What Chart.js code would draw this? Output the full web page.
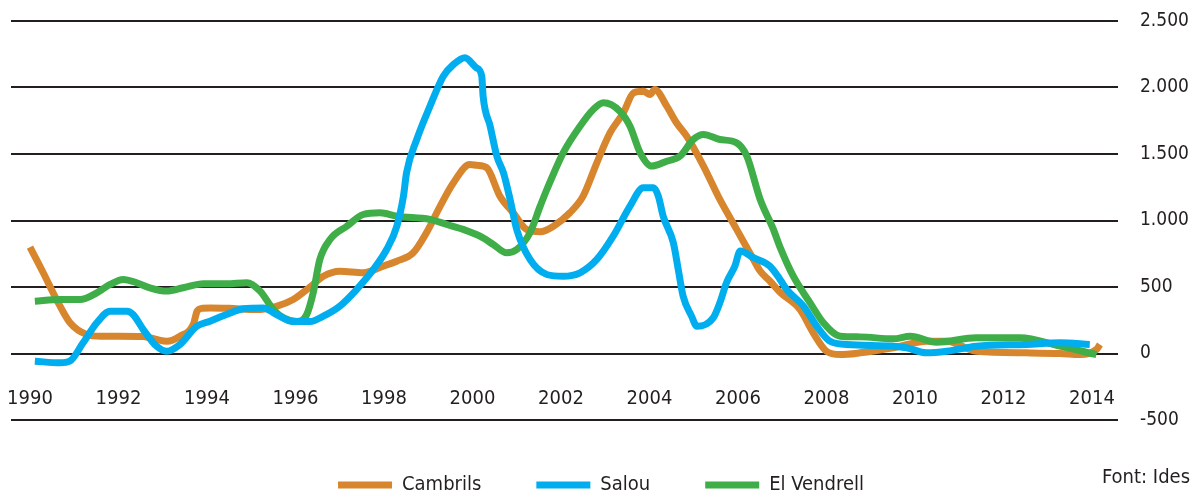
<!DOCTYPE html>
<html>
<head>
<meta charset="utf-8">
<script src="https://cdn.jsdelivr.net/npm/chart.js@4.4.0/dist/chart.umd.min.js"></script>
<style>
  html, body { margin: 0; padding: 0; background: #ffffff; }
</style>
</head>
<body>
<canvas id="chart" width="1191" height="498"></canvas>
<script>
// --- data ---
const cambrilsYears = [1990.0, 1990.3, 1990.6, 1990.9, 1991.28, 1991.6, 1992.0, 1992.56, 1992.86, 1993.09, 1993.39, 1993.69, 1993.78, 1993.9, 1994.07, 1994.5, 1995.12, 1995.57, 1995.95, 1996.33, 1996.63, 1997.0, 1997.53, 1997.98, 1998.29, 1998.66, 1998.96, 1999.27, 1999.57, 1999.94, 2000.1, 2000.32, 2000.62, 2000.92, 2001.22, 2001.53, 2001.83, 2002.2, 2002.5, 2002.81, 2003.11, 2003.41, 2003.64, 2003.86, 2004.01, 2004.12, 2004.39, 2004.61, 2004.84, 2005.22, 2005.59, 2005.97, 2006.35, 2006.5, 2006.72, 2006.95, 2007.4, 2007.7, 2008.0, 2008.31, 2008.76, 2009.51, 2010.26, 2010.72, 2011.39, 2012.52, 2013.28, 2013.73, 2014.1, 2014.18];
const cambrilsValues = [800, 607, 406, 233, 143, 130, 130, 128, 105, 92, 130, 218, 320, 340, 343, 340, 330, 355, 406, 500, 581, 619, 607, 657, 694, 757, 908, 1108, 1284, 1421, 1415, 1397, 1183, 1058, 933, 915, 957, 1058, 1183, 1434, 1660, 1810, 1960, 1972, 1948, 1985, 1860, 1735, 1634, 1409, 1158, 933, 707, 620, 545, 460, 331, 155, 17, -8, 5, 43, 92, 92, 17, 5, 0, -8, 30, 68];

const salouYears = [1990.11, 1990.68, 1990.9, 1991.2, 1991.51, 1991.81, 1992.19, 1992.33, 1992.56, 1992.86, 1993.09, 1993.39, 1993.77, 1994.07, 1994.44, 1994.82, 1995.27, 1995.57, 1995.95, 1996.33, 1996.63, 1997.0, 1997.38, 1997.76, 1998.06, 1998.29, 1998.44, 1998.51, 1998.74, 1999.04, 1999.34, 1999.57, 1999.83, 2000.09, 2000.21, 2000.24, 2000.4, 2000.55, 2000.7, 2000.85, 2001.0, 2001.3, 2001.68, 2002.05, 2002.43, 2002.81, 2003.18, 2003.56, 2003.86, 2004.09, 2004.2, 2004.31, 2004.54, 2004.65, 2004.76, 2004.95, 2005.07, 2005.44, 2005.59, 2005.74, 2005.93, 2006.05, 2006.35, 2006.72, 2006.95, 2007.1, 2007.48, 2007.78, 2008.08, 2008.46, 2009.51, 2009.81, 2010.26, 2010.72, 2011.39, 2012.52, 2013.28, 2013.95];
const salouValues = [-58, -70, -58, 80, 231, 318, 318, 293, 180, 55, 17, 68, 205, 243, 293, 336, 343, 293, 240, 240, 281, 356, 481, 632, 782, 957, 1183, 1359, 1609, 1860, 2085, 2173, 2224, 2148, 2085, 1935, 1709, 1484, 1359, 1158, 933, 707, 594, 581, 607, 707, 882, 1108, 1246, 1246, 1183, 1032, 832, 632, 431, 281, 205, 268, 381, 532, 657, 770, 720, 657, 557, 481, 356, 205, 92, 68, 55, 43, 5, 17, 55, 68, 80, 68];

const vendrellYears = [1990.11, 1990.68, 1991.13, 1991.51, 1991.81, 1992.11, 1992.41, 1992.71, 1993.09, 1993.46, 1993.92, 1994.44, 1994.9, 1995.2, 1995.5, 1995.73, 1996.03, 1996.25, 1996.4, 1996.55, 1996.78, 1997.16, 1997.53, 1997.91, 1998.29, 1999.04, 1999.42, 1999.79, 2000.17, 2000.47, 2000.77, 2001.0, 2001.3, 2001.53, 2001.68, 2002.05, 2002.43, 2002.73, 2002.96, 2003.33, 2003.56, 2003.79, 2004.05, 2004.39, 2004.69, 2004.99, 2005.22, 2005.59, 2005.97, 2006.2, 2006.5, 2006.8, 2006.95, 2007.25, 2007.63, 2007.93, 2008.31, 2008.76, 2009.51, 2009.89, 2010.49, 2011.39, 2012.37, 2013.28, 2014.1];
const vendrellValues = [393, 406, 406, 456, 519, 557, 532, 494, 469, 494, 524, 524, 532, 469, 331, 268, 240, 290, 456, 707, 857, 957, 1045, 1058, 1032, 1008, 970, 933, 882, 820, 757, 782, 908, 1108, 1233, 1509, 1709, 1835, 1885, 1822, 1709, 1509, 1409, 1446, 1484, 1609, 1647, 1609, 1584, 1484, 1160, 933, 800, 581, 381, 231, 130, 125, 110, 130, 85, 118, 118, 55, -8];

const seriesNames = ['Cambrils', 'Salou', 'El Vendrell'];
const xTickYears = [1990, 1992, 1994, 1996, 1998, 2000, 2002, 2004, 2006, 2008, 2010, 2012, 2014];
const yTickValues = [-500, 0, 500, 1000, 1500, 2000, 2500];
const yTickLabels = ['-500', '0', '500', '1.000', '1.500', '2.000', '2.500'];
const sourceText = 'Font: Ides';

// --- styling ---
const FONT = '"Liberation Sans Narrow", "DejaVu Sans", sans-serif';
const STRETCH = 'condensed';
const INK = '#231F20';
const colors = ['#D8862E', '#00AEEF', '#3FAE49'];

function toPoints(xs, ys) {
  return xs.map((x, i) => ({ x: x, y: ys[i] }));
}

Chart.defaults.font.family = FONT;
Chart.defaults.font.size = 20;
Chart.defaults.font.weight = STRETCH; // ends up in the canvas font shorthand
Chart.defaults.color = INK;

const sourceNote = {
  id: 'sourceNote',
  afterDraw(chart) {
    const c = chart.ctx;
    c.save();
    c.font = STRETCH + ' 20px ' + FONT;
    c.fillStyle = INK;
    c.textAlign = 'right';
    c.textBaseline = 'middle';
    c.fillText(sourceText, 1190, 478);
    c.restore();
  }
};

const lineStyle = (i, order) => ({
  label: seriesNames[i],
  borderColor: colors[i],
  backgroundColor: colors[i],
  borderWidth: 7,
  pointRadius: 0,
  cubicInterpolationMode: 'monotone',
  borderJoinStyle: 'round',
  fill: false,
  order: order
});

new Chart(document.getElementById('chart'), {
  type: 'line',
  data: {
    datasets: [
      Object.assign(lineStyle(0, 3), { data: toPoints(cambrilsYears, cambrilsValues) }),
      Object.assign(lineStyle(1, 1), { data: toPoints(salouYears, salouValues) }),
      Object.assign(lineStyle(2, 2), { data: toPoints(vendrellYears, vendrellValues) })
    ]
  },
  options: {
    responsive: false,
    animation: false,
    layout: { padding: { left: 11, top: 21, right: 0, bottom: -7 } },
    scales: {
      x: {
        type: 'linear',
        position: { y: 0 },
        min: 1989.571,
        max: 2014.588,
        grid: { display: false, drawTicks: false },
        border: { display: false },
        afterBuildTicks: (axis) => { axis.ticks = xTickYears.map(v => ({ value: v })); },
        afterFit: (axis) => { axis.paddingLeft = 0; axis.paddingRight = 0; },
        ticks: {
          padding: 33,
          maxRotation: 0,
          autoSkip: false,
          callback: (v) => String(v)
        }
      },
      y: {
        position: 'right',
        min: -500,
        max: 2500,
        afterBuildTicks: (axis) => { axis.ticks = yTickValues.map(v => ({ value: v })); },
        afterFit: (axis) => { axis.width = 73; axis.paddingTop = 0; axis.paddingBottom = 0; },
        grid: { color: INK, lineWidth: 2, drawTicks: false },
        border: { display: false },
        ticks: {
          padding: 22,
          font: { size: 19 },
          callback: (v) => yTickLabels[yTickValues.indexOf(v)]
        }
      }
    },
    plugins: {
      legend: {
        position: 'bottom',
        labels: {
          usePointStyle: true,
          pointStyle: 'line',
          pointStyleWidth: 54,
          padding: 55,
          color: INK,
          sort: (a, b) => a.datasetIndex - b.datasetIndex
        }
      },
      tooltip: { enabled: false }
    }
  },
  plugins: [sourceNote]
});
</script>
</body>
</html>
